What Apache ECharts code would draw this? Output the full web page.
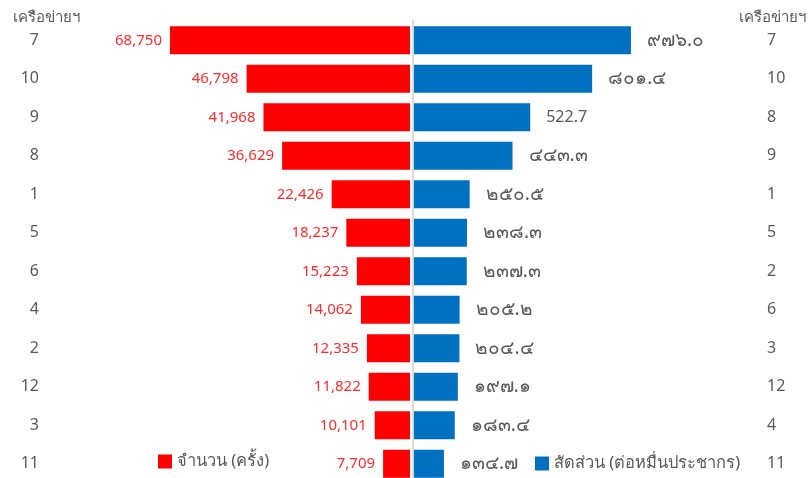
<!DOCTYPE html>
<html>
<head>
<meta charset="utf-8">
<script src="https://cdn.jsdelivr.net/npm/echarts@6/dist/echarts.min.js"></script>
<style>
  html, body { margin: 0; padding: 0; background: #ffffff; overflow: hidden; }
  /* the plot runs slightly past the bottom edge of the window */
  #chart { width: 808px; height: 490px; }
</style>
</head>
<body>
<div id="chart"></div>
<script>
// Network ids, sorted by count (left) and by rate (right)
const countCategories = ['7', '10', '9', '8', '1', '5', '6', '4', '2', '12', '3', '11'];
const countValues = [68750, 46798, 41968, 36629, 22426, 18237, 15223, 14062, 12335, 11822, 10101, 7709];

const rateCategories = ['7', '10', '8', '9', '1', '5', '2', '6', '3', '12', '4', '11'];
const rateValues = [976.0, 801.4, 522.7, 443.3, 250.5, 238.3, 237.3, 205.2, 204.4, 197.1, 183.4, 134.7];
// Digit set used for each rate label ('th' = Thai numerals, 'en' = Arabic numerals)
const rateLabelDigits = ['th', 'th', 'en', 'th', 'th', 'th', 'th', 'th', 'th', 'th', 'th', 'th'];

const axisTitle = 'เครือข่ายฯ';
const countSeriesName = 'จำนวน (ครั้ง)';
const rateSeriesName = 'สัดส่วน (ต่อหมื่นประชากร)';

const THAI_DIGITS = '๐๑๒๓๔๕๖๗๘๙';
function toThaiDigits(str) {
  return str.replace(/[0-9]/g, d => THAI_DIGITS[+d]);
}

const FONT = 'Tahoma, "Noto Sans", "DejaVu Sans", sans-serif';
const GRAY = '#595959';

const chart = echarts.init(document.getElementById('chart'), null, { renderer: 'canvas' });

const gridTop = 21;
const gridHeight = 462;

chart.setOption({
  animation: false,
  backgroundColor: '#ffffff',
  textStyle: { fontFamily: FONT },
  title: [
    { text: axisTitle, left: 13, top: 10, padding: 0, textStyle: { color: GRAY, fontSize: 15, fontWeight: 'normal', fontFamily: FONT } },
    { text: axisTitle, left: 739, top: 10, padding: 0, textStyle: { color: GRAY, fontSize: 15, fontWeight: 'normal', fontFamily: FONT } }
  ],
  legend: [
    {
      data: [countSeriesName], left: 158, top: 453, padding: 0, icon: 'rect',
      itemWidth: 14, itemHeight: 14, itemGap: 5,
      textStyle: { color: GRAY, fontSize: 16.5, fontFamily: FONT }
    },
    {
      data: [rateSeriesName], left: 535, top: 455, padding: 0, icon: 'rect',
      itemWidth: 14, itemHeight: 14, itemGap: 5,
      textStyle: { color: GRAY, fontSize: 16.5, fontFamily: FONT }
    }
  ],
  grid: [
    { left: 165.6, right: 398, top: gridTop, height: gridHeight, containLabel: false },
    { left: 414, right: 171.7, top: gridTop, height: gridHeight, containLabel: false }
  ],
  xAxis: [
    { gridIndex: 0, type: 'value', min: 0, max: 70000, inverse: true, show: false },
    { gridIndex: 1, type: 'value', min: 0, max: 1000, show: false }
  ],
  yAxis: [
    {
      gridIndex: 0, type: 'category', data: countCategories, inverse: true,
      position: 'left', offset: 118.6,
      axisLine: { show: false, onZero: false }, axisTick: { show: false },
      axisLabel: { color: GRAY, fontSize: 16, margin: 8, fontFamily: FONT }
    },
    {
      gridIndex: 1, type: 'category', data: rateCategories, inverse: true,
      position: 'left', offset: 1,
      axisLine: { show: true, onZero: false, lineStyle: { color: '#d9d9d9', width: 2 } },
      axisTick: { show: false }, axisLabel: { show: false }
    },
    {
      gridIndex: 1, type: 'category', data: rateCategories, inverse: true,
      position: 'right', offset: 122.7,
      axisLine: { show: false, onZero: false }, axisTick: { show: false },
      axisLabel: { color: GRAY, fontSize: 16, margin: 8, fontFamily: FONT }
    }
  ],
  series: [
    {
      name: countSeriesName, type: 'bar', xAxisIndex: 0, yAxisIndex: 0,
      data: countValues, barWidth: 28,
      itemStyle: { color: '#ff0000' },
      label: {
        show: true, position: 'left', distance: 8,
        color: '#ff2a2a', fontSize: 15, fontFamily: FONT,
        formatter: p => p.value.toLocaleString('en-US')
      }
    },
    {
      name: rateSeriesName, type: 'bar', xAxisIndex: 1, yAxisIndex: 1,
      data: rateValues, barWidth: 28,
      itemStyle: { color: '#0070c0' },
      label: {
        show: true, position: 'right', distance: 16,
        color: GRAY, fontFamily: FONT,
        rich: {
          th: { color: GRAY, fontSize: 19, fontFamily: FONT },
          en: { color: GRAY, fontSize: 16, fontFamily: FONT }
        },
        formatter: p => {
          const txt = p.value.toFixed(1);
          return rateLabelDigits[p.dataIndex] === 'th'
            ? '{th|' + toThaiDigits(txt) + '}'
            : '{en|' + txt + '}';
        }
      }
    }
  ]
});
</script>
</body>
</html>
